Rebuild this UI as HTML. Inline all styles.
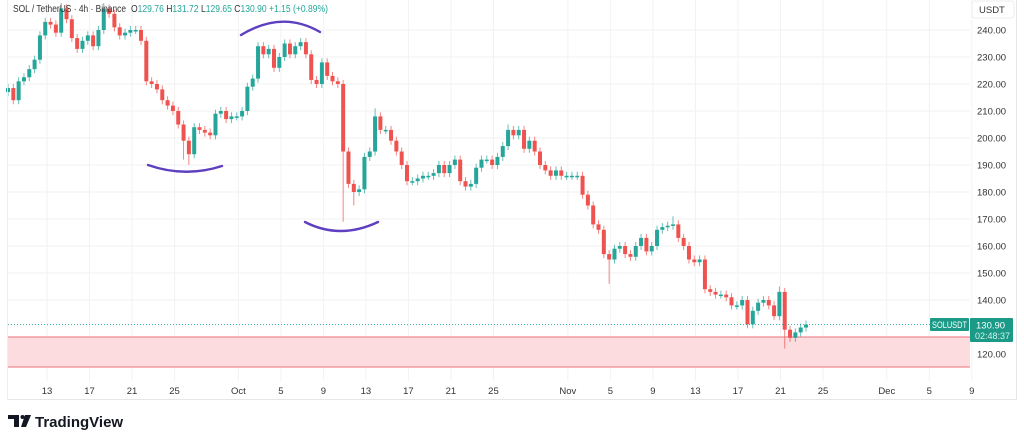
<!DOCTYPE html>
<html><head><meta charset="utf-8">
<style>
html,body{margin:0;padding:0;background:#fff;width:1024px;height:443px;overflow:hidden;font-family:"Liberation Sans",sans-serif;}
svg text{font-family:"Liberation Sans",sans-serif;}
</style></head>
<body>
<svg id="chart" width="1024" height="443" viewBox="0 0 1024 443" xmlns="http://www.w3.org/2000/svg">
<g id="grid"></g>
<rect x="8" y="337" width="962" height="30" fill="#fcdcde" stroke="none"/>
<line x1="8" y1="337" x2="970" y2="337" stroke="#f08a92" stroke-width="1.2"/>
<line x1="8" y1="367" x2="970" y2="367" stroke="#f08a92" stroke-width="1.2"/>
<g id="candles"></g>
<line id="lastline" x1="8" x2="970" stroke="#26a69a" stroke-width="0.8" stroke-dasharray="1,2"/>
<path d="M148,165 Q185,178 222,166" fill="none" stroke="#5e3fc0" stroke-width="2.4" stroke-linecap="round"/>
<path d="M241,35 Q282,10 320,32" fill="none" stroke="#5e3fc0" stroke-width="2.4" stroke-linecap="round"/>
<path d="M305,222 Q340,240 378,222" fill="none" stroke="#5e3fc0" stroke-width="2.4" stroke-linecap="round"/>
<g id="yaxis"></g>
<g id="xaxis"></g>
<line x1="1016.5" y1="0" x2="1016.5" y2="400" stroke="#e6e6e6"/>
<line x1="7" y1="399.5" x2="1016" y2="399.5" stroke="#e6e6e6"/>
<line x1="7.5" y1="0" x2="7.5" y2="400" stroke="#eeeeee"/>
<g font-size="10">
<text x="13" y="12" fill="#333" textLength="113" lengthAdjust="spacingAndGlyphs">SOL / TetherUS · 4h · Binance</text>
<text x="131" y="12" fill="#333" textLength="197" lengthAdjust="spacingAndGlyphs">O<tspan fill="#26a69a">129.76</tspan> H<tspan fill="#26a69a">131.72</tspan> L<tspan fill="#26a69a">129.65</tspan> C<tspan fill="#26a69a">130.90</tspan> <tspan fill="#26a69a">+1.15 (+0.89%)</tspan></text>
</g>
<g>
<rect x="972" y="1" width="42" height="17" rx="3" fill="#fff" stroke="#eee"/>
<text x="979" y="13" font-size="9.5" fill="#333">USDT</text>
</g>
<g>
<rect x="930" y="318" width="39" height="13" rx="1" fill="#1a9a87"/>
<text x="932" y="328" font-size="9" fill="#fff" textLength="35" lengthAdjust="spacingAndGlyphs">SOLUSDT</text>
</g>
<g>
<rect x="970" y="318" width="43" height="24" rx="1" fill="#1a9a87"/>
<text x="976" y="328.5" font-size="9.5" fill="#fff">130.90</text>
<text x="975" y="339" font-size="9" fill="#d8f0ec">02:48:37</text>
</g>
<g>
<path d="M8,415 h11 v12 h-5 v-8 h-6z" fill="#131722"/>
<circle cx="22.5" cy="417" r="2" fill="#131722"/>
<path d="M25,415 h6 l-5,12 h-5z" fill="#131722"/>
<text x="35" y="427" font-size="15" font-weight="bold" fill="#131722">TradingView</text>
</g>
</svg>
<script>
// ---- data ----
const closes = [218.5,214,221,222.5,225.5,229,238,243,242,239,248,244,237,233,236,238,234,240,248,246,
241,238,239,240,240,236,221,220,218,214,212,210,205,199,194,204,203,202,201,209,
210,207,208,208,210,219,222,234,231,233,226,230,235,231,234,235.5,231,221.5,220,228,
223,221,220,195,183,180,181,193,195,208,203,203,199,195,190,184,184,185,186,186,
187,190,187,190,192,184,182,183,189,192,192,190,193,197,203,201,203,196,199,195,
190,188,186,188,186,186,186,186,179,175,168,166,157,155,159,160,157,156,160,163,
158,160,166,167,167.5,168,163,160,155,154,155,144,143,142,142,141,138,138,140,131,
136,139,140,138,134,143,129,126,128,129.8,130.9];
const firstOpen = 217;
const lowWicks = {63:169, 65:175, 113:146, 146:122, 33:192, 34:190};
const highWicks = {10:250, 18:250, 69:211, 94:205, 125:171, 145:145};
const priceTicks = [240,230,220,210,200,190,180,170,160,150,140,120];
const dateLabels = ["13","17","21","25","Oct","5","9","13","17","21","25","Nov","5","9","13","17","21","25","Dec","5","9"];
const dateDays = [13,17,21,25,31,35,39,43,47,51,55,62,66,70,74,78,82,86,92,96,100]; // days since Aug 31
const lastPrice = 130.9;
// ---- scales ----
const NS='http://www.w3.org/2000/svg';
function yS(p){return 30+(240-p)*2.7;}
function xDay(d){return 47+(d-13)*10.63;}
function xIdx(i){return 8+i*5.32;}
function mk(tag,attrs,parent){const e=document.createElementNS(NS,tag);for(const k in attrs)e.setAttribute(k,attrs[k]);parent.appendChild(e);return e;}
const grid=document.getElementById('grid'),yax=document.getElementById('yaxis'),xax=document.getElementById('xaxis'),cg=document.getElementById('candles');
priceTicks.forEach(p=>{
  const l=mk('line',{x1:8,x2:970,y1:yS(p),y2:yS(p),stroke:'#f2f2f2'},grid);
  
  
  const t=mk('text',{x:977,y:yS(p)+3.5,'font-size':9.5,fill:'#333'},yax);
  t.textContent=p.toFixed(2);
  
  
});
dateLabels.forEach((s,i)=>{
  const x=xDay(dateDays[i]);
  const l=mk('line',{x1:x,x2:x,y1:0,y2:381,stroke:'#f2f2f2'},grid);
  
  
  const t=mk('text',{x:x,y:394,'font-size':9.5,fill:'#333','text-anchor':'middle'},xax);
  t.textContent=s;
  
  
});
let prev=firstOpen;
closes.forEach((c,i)=>{
  const o=prev, up=c>=o, col=up?'#26a69a':'#ef5350';
  let hi=Math.max(o,c)+1.5, lo=Math.min(o,c)-1.5;
  if(highWicks[i]!==undefined)hi=highWicks[i];
  if(lowWicks[i]!==undefined)lo=lowWicks[i];
  const x=xIdx(i);
  const w=mk('line',{x1:x,x2:x,y1:yS(hi),y2:yS(lo),stroke:col,'stroke-width':1,opacity:0.7},cg);
  
  
  const top=yS(Math.max(o,c)), h=Math.max(1.5,yS(Math.min(o,c))-top);
  const b=mk('rect',{x:x-2,y:top,width:4,height:h,fill:col},cg);
  
  
  prev=c;
});
const ll=document.getElementById('lastline');ll.setAttribute('y1',yS(lastPrice));ll.setAttribute('y2',yS(lastPrice));
</script>
</body></html>
